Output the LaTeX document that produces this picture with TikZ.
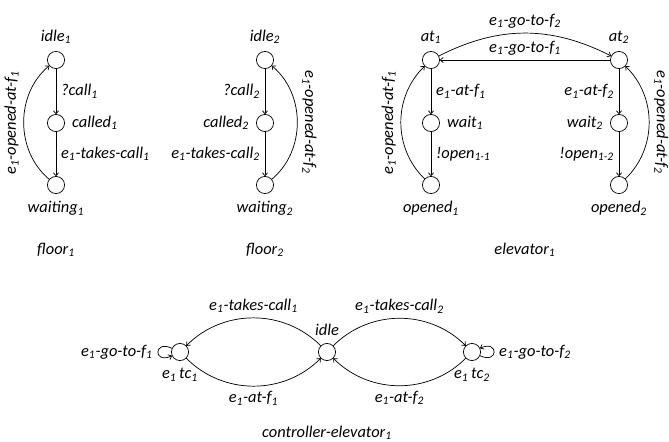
\documentclass[tikz,border=0pt]{standalone}
\usepackage{fontspec}
\setmainfont{Carlito}
\usepackage{tikz}
\usetikzlibrary{arrows.meta, positioning}
\tikzstyle{statenode} = [draw, circle, minimum size=12pt, inner sep=0pt, line width=0.5pt]
\tikzstyle{arrw} = [line width=0.5pt, -{To[length=2.5pt, width=4pt]}]
\tikzstyle{lbl} = [font=\fontsize{11.5pt}{14pt}\selectfont\itshape]
\newcommand{\idx}[1]{\textsubscript{#1}}

\begin{document}
\begin{tikzpicture}[x=0.7pt, y=-0.7pt, label distance=1.5pt, every label/.style={lbl}]
    \useasboundingbox (0,0) rectangle (669,441);

    % floor 1
    \node (idleA) [statenode, label=above:idle\idx{1}] at (56,60) {};
    \node (calledA) [statenode, label=right:called\idx{1}] at (56,123) {};
    \node (waitingA) [statenode, label=below:waiting\idx{1}] at (56,185) {};
    \node (floorA) [lbl] at (56,250) {floor\idx{1}};

    \draw [arrw] (idleA) -- node [lbl, right] {?call\idx{1}} (calledA);
    \draw [arrw] (calledA) -- node [lbl, right] {e\idx{1}-takes-call\idx{1}} (waitingA);
    \draw [arrw] (waitingA) to[bend left=50] node [lbl, midway, sloped, above] {e\idx{1}-opened-at-f\idx{1}} (idleA);

    % floor 2
    \node (idleB) [statenode, label=above:idle\idx{2}] at (265,60) {};
    \node (calledB) [statenode, label=left:called\idx{2}] at (265,123) {};
    \node (waitingB) [statenode, label=below:waiting\idx{2}] at (265,185) {};
    \node (floorB) [lbl] at (265,250) {floor\idx{2}};

    \draw [arrw] (idleB) -- node [lbl, left] {?call\idx{2}} (calledB);
    \draw [arrw] (calledB) -- node [lbl, left] {e\idx{1}-takes-call\idx{2}} (waitingB);
    \draw [arrw] (waitingB) to[bend right=50] node [lbl, midway, rotate=-90, anchor=south] {e\idx{1}-opened-at-f\idx{2}} (idleB);

    % elevator
    \node (atA) [statenode, label=above:at\idx{1}] at (431,60) {};
    \node (waitA) [statenode, label=right:wait\idx{1}] at (431,123) {};
    \node (openedA) [statenode, label=below:opened\idx{1}] at (431,185) {};
    \node (atB) [statenode, label=above:at\idx{2}] at (619,60) {};
    \node (waitB) [statenode, label=left:wait\idx{2}] at (619,123) {};
    \node (openedB) [statenode, label=below:opened\idx{2}] at (619,185) {};
    \node (elevator) [lbl] at (525,250) {elevator\idx{1}};

    \draw [arrw] (atA) to[bend left=27] node [lbl, above] {e\idx{1}-go-to-f\idx{2}} (atB);
    \draw [arrw] (atB) -- node [lbl, above] {e\idx{1}-go-to-f\idx{1}} (atA);
    \draw [arrw] (atA) -- node [lbl, right] {e\idx{1}-at-f\idx{1}} (waitA);
    \draw [arrw] (waitA) -- node [lbl, right] {!open\idx{1-1}} (openedA);
    \draw [arrw] (atB) -- node [lbl, left] {e\idx{1}-at-f\idx{2}} (waitB);
    \draw [arrw] (waitB) -- node [lbl, left] {!open\idx{1-2}} (openedB);
    \draw [arrw] (openedA) to[bend left=46] node [lbl, midway, sloped, above] {e\idx{1}-opened-at-f\idx{1}} (atA);
    \draw [arrw] (openedB) to[bend right=46] node [lbl, midway, rotate=-90, anchor=south] {e\idx{1}-opened-at-f\idx{2}} (atB);

    % controller
    \node (tcA) [statenode, label=below:e\idx{1}\,tc\idx{1}] at (180,352) {};
    \node (idle) [statenode, label=above:idle] at (327,352) {};
    \node (tcB) [statenode, label=below:e\idx{1}\,tc\idx{2}] at (472,352) {};
    \node (ctrl) [lbl] at (327,433) {controller-elevator\idx{1}};

    \draw [arrw] (idle) to[bend right=45] node [lbl, above] {e\idx{1}-takes-call\idx{1}} (tcA);
    \draw [arrw] (tcA) to[bend right=45] node [lbl, below] {e\idx{1}-at-f\idx{1}} (idle);
    \draw [arrw] (idle) to[bend left=45] node [lbl, above] {e\idx{1}-takes-call\idx{2}} (tcB);
    \draw [arrw] (tcB) to[bend left=45] node [lbl, below] {e\idx{1}-at-f\idx{2}} (idle);
    \draw [arrw] (tcA) to[out=155, in=205, looseness=7] node [lbl, left] {e\idx{1}-go-to-f\idx{1}} (tcA);
    \draw [arrw] (tcB) to[out=-25, in=25, looseness=7] node [lbl, right] {e\idx{1}-go-to-f\idx{2}} (tcB);
\end{tikzpicture}
\end{document}
